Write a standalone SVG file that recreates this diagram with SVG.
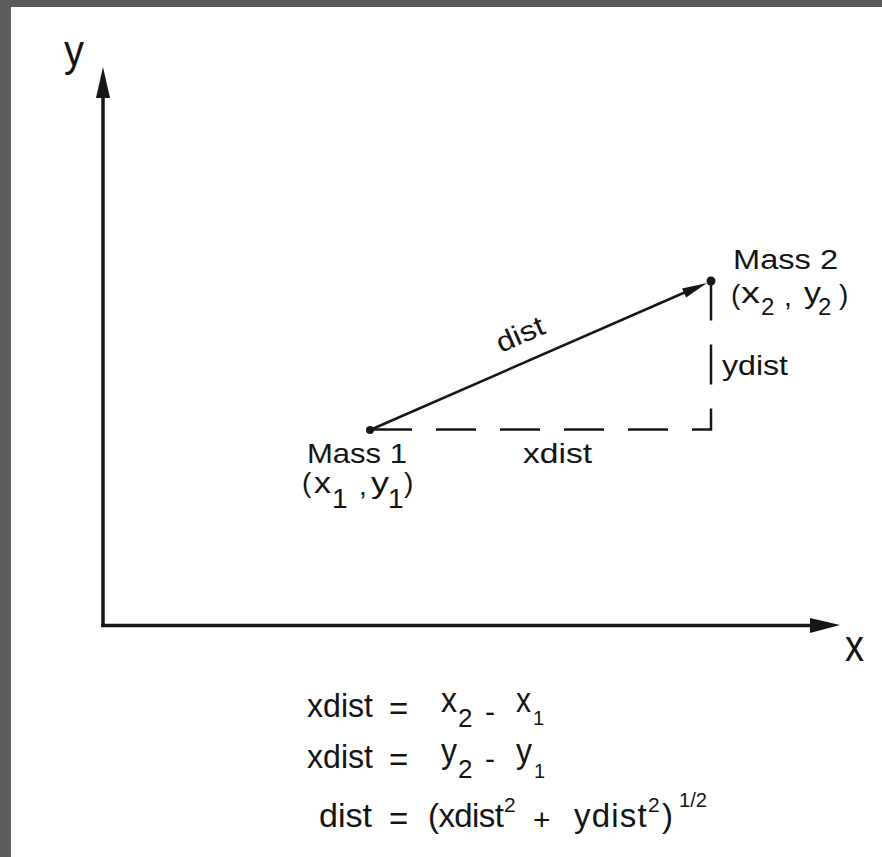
<svg xmlns="http://www.w3.org/2000/svg" width="882" height="857" viewBox="0 0 882 857">
<style>
text{font-family:"Liberation Sans",Arial,sans-serif;fill:#141414}
.lbl{font-size:28px}
.eq{font-size:33px}
.ln{stroke:#161616;fill:none}
.ah{fill:#161616}
</style>
<rect x="0" y="0" width="882" height="857" fill="#ffffff"/>
<rect x="0" y="0" width="882" height="7" fill="#5c5c5c"/>
<rect x="0" y="0" width="11" height="857" fill="#5c5c5c"/>

<g id="axes">
  <line class="ln" x1="103" y1="96" x2="103" y2="627" stroke-width="3.5"/>
  <polygon class="ah" points="103,67 96,98 110,98"/>
  <line class="ln" x1="101.3" y1="625.5" x2="812" y2="625.5" stroke-width="3.5"/>
  <polygon class="ah" points="840,625 810,618 810,633"/>
  <text x="64" y="66" font-size="44" textLength="20" lengthAdjust="spacingAndGlyphs">y</text>
  <text x="845" y="661" font-size="44" textLength="19" lengthAdjust="spacingAndGlyphs">x</text>
</g>

<g id="connectors">
  <line class="ln" x1="370" y1="430" x2="688" y2="291" stroke-width="2.5"/>
  <polygon class="ah" points="707,283 686.1,297.6 682.1,288.4"/>
  <path class="ln" d="M372,429.5 H711 V281" stroke-width="2.5" stroke-dasharray="40 24"/>
  <text class="lbl" x="0" y="0" font-size="27" textLength="50" lengthAdjust="spacingAndGlyphs" transform="translate(501,353) rotate(-23.6)">dist</text>
  <text class="lbl" x="523" y="463" textLength="69" lengthAdjust="spacingAndGlyphs">xdist</text>
  <text class="lbl" x="722" y="375" font-size="27" textLength="66" lengthAdjust="spacingAndGlyphs">ydist</text>
</g>

<g id="mass1">
  <circle cx="370" cy="430" r="4" fill="#161616"/>
  <text class="lbl" x="307" y="463" textLength="100" lengthAdjust="spacingAndGlyphs">Mass 1</text>
  <text class="lbl" x="302" y="492">(</text>
  <text x="314" y="493" font-size="30" textLength="17" lengthAdjust="spacingAndGlyphs">x</text>
  <text x="332" y="508" font-size="28">1</text>
  <text class="lbl" x="359" y="495">,</text>
  <text x="371" y="493" font-size="30" textLength="18" lengthAdjust="spacingAndGlyphs">y</text>
  <text x="388" y="508" font-size="28">1</text>
  <text class="lbl" x="404" y="492">)</text>
</g>

<g id="mass2">
  <circle cx="711" cy="281" r="4.5" fill="#161616"/>
  <text class="lbl" x="733" y="269" font-size="27" textLength="105" lengthAdjust="spacingAndGlyphs">Mass 2</text>
  <text class="lbl" x="731" y="304">(</text>
  <text x="741" y="303" font-size="30" textLength="19" lengthAdjust="spacingAndGlyphs">x</text>
  <text x="761" y="315" font-size="24">2</text>
  <text class="lbl" x="784" y="306">,</text>
  <text x="804" y="303" font-size="30" textLength="17" lengthAdjust="spacingAndGlyphs">y</text>
  <text x="818" y="315" font-size="24">2</text>
  <text class="lbl" x="839" y="304">)</text>
</g>

<g id="equations">
  <text class="eq" x="307" y="717" textLength="66" lengthAdjust="spacingAndGlyphs">xdist</text>
  <text class="eq" x="389" y="720">=</text>
  <text x="441" y="712" font-size="35" textLength="16" lengthAdjust="spacingAndGlyphs">x</text>
  <text x="458" y="727" font-size="26">2</text>
  <text x="485" y="722" font-size="30">-</text>
  <text x="516" y="712" font-size="35" textLength="15" lengthAdjust="spacingAndGlyphs">x</text>
  <text x="533" y="725" font-size="20">1</text>

  <text class="eq" x="307" y="768" textLength="66" lengthAdjust="spacingAndGlyphs">xdist</text>
  <text class="eq" x="389" y="771">=</text>
  <text x="441" y="763" font-size="35" textLength="16" lengthAdjust="spacingAndGlyphs">y</text>
  <text x="458" y="778" font-size="26">2</text>
  <text x="485" y="769" font-size="30">-</text>
  <text x="516" y="763" font-size="35" textLength="16" lengthAdjust="spacingAndGlyphs">y</text>
  <text x="534" y="778" font-size="20">1</text>

  <text class="eq" x="319" y="827" textLength="53" lengthAdjust="spacingAndGlyphs">dist</text>
  <text class="eq" x="389" y="830">=</text>
  <text class="eq" x="428" y="827"><tspan letter-spacing="-0.6">(xdist</tspan><tspan x="504" dy="-15" font-size="21">2</tspan></text>
  <text x="533" y="830" font-size="30">+</text>
  <text class="eq" x="574" y="827"><tspan letter-spacing="1.2">ydist</tspan><tspan x="648" dy="-15" font-size="21">2</tspan><tspan x="662" dy="15">)</tspan></text>
  <text x="679" y="807" font-size="21" textLength="28" lengthAdjust="spacingAndGlyphs">1/2</text>
</g>
</svg>
